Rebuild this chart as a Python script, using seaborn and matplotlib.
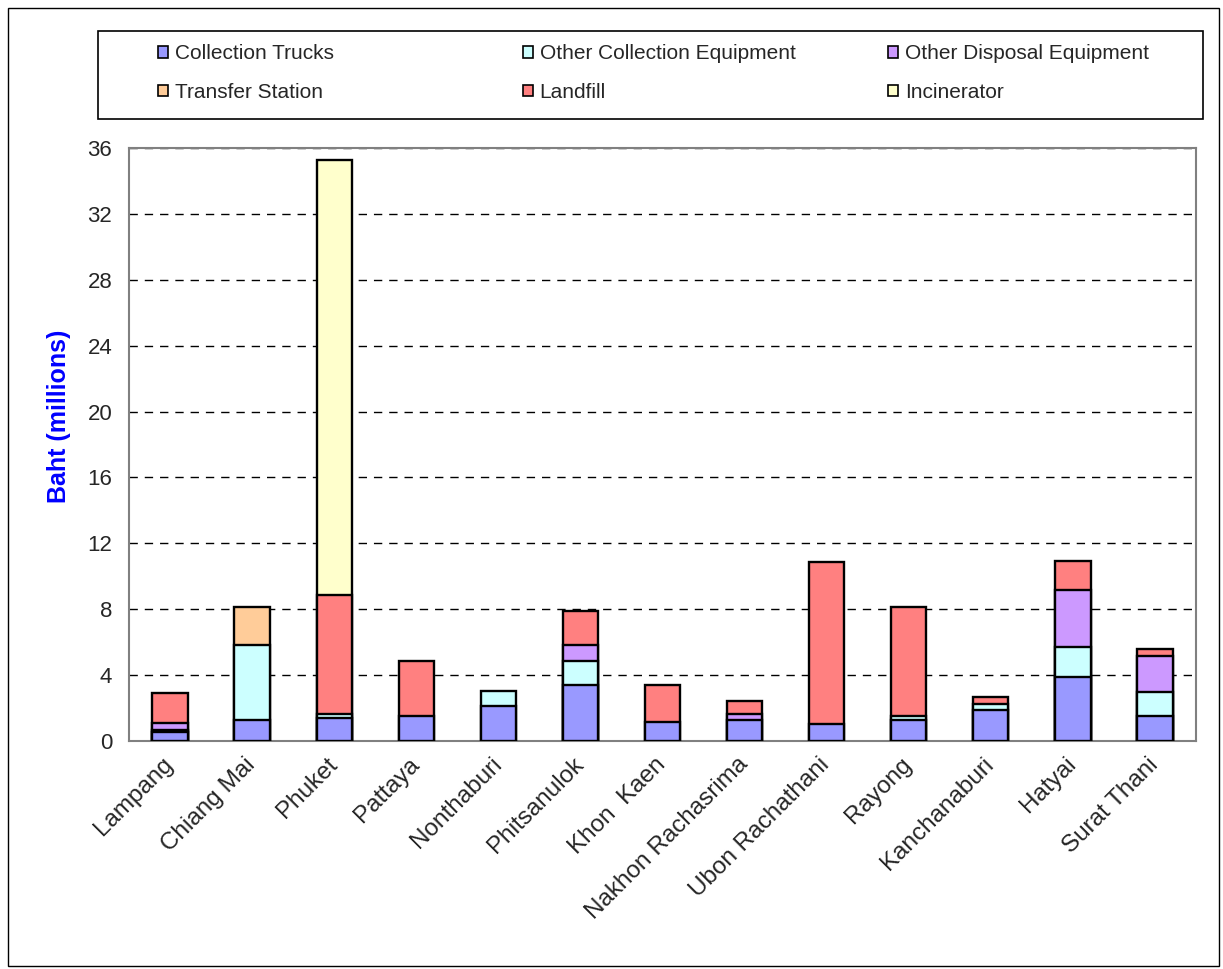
import numpy as np
import pandas as pd
import matplotlib
matplotlib.use("Agg")
import matplotlib.pyplot as plt
from matplotlib.patches import Patch, Rectangle
from matplotlib.transforms import ScaledTranslation
import seaborn as sns

cities = ["Lampang", "Chiang Mai", "Phuket", "Pattaya", "Nonthaburi", "Phitsanulok",
          "Khon  Kaen", "Nakhon Rachasrima", "Ubon Rachathani", "Rayong",
          "Kanchanaburi", "Hatyai", "Surat Thani"]

collection_trucks = [0.55, 1.28, 1.40, 1.54, 2.10, 3.37, 1.18, 1.30, 1.05, 1.28, 1.90, 3.87, 1.54]
other_collection = [0.10, 4.52, 0.25, 0.00, 0.92, 1.48, 0.00, 0.00, 0.00, 0.25, 0.35, 1.81, 1.46]
other_disposal = [0.45, 0.00, 0.00, 0.00, 0.00, 0.95, 0.00, 0.36, 0.00, 0.00, 0.00, 3.51, 2.15]
transfer_station = [0.00, 2.31, 0.00, 0.00, 0.00, 0.00, 0.00, 0.00, 0.00, 0.00, 0.00, 0.00, 0.00]
landfill = [1.80, 0.00, 7.20, 3.33, 0.00, 2.09, 2.21, 0.75, 9.80, 6.58, 0.40, 1.71, 0.43]
incinerator = [0.00, 0.00, 26.45, 0.00, 0.00, 0.00, 0.00, 0.00, 0.00, 0.00, 0.00, 0.00, 0.00]

series_names = ["Collection Trucks", "Other Collection Equipment", "Other Disposal Equipment",
                "Transfer Station", "Landfill", "Incinerator"]
series_values = [collection_trucks, other_collection, other_disposal,
                 transfer_station, landfill, incinerator]
series_colors = ["#9999FF", "#CCFFFF", "#CC99FF", "#FFCC99", "#FF8080", "#FFFFCC"]

y_ticks = [0, 4, 8, 12, 16, 20, 24, 28, 32, 36]

sns.set_style("white")
plt.rcParams["font.family"] = ["Liberation Sans", "DejaVu Sans"]

W, H = 1223, 969
fig = plt.figure(figsize=(W / 100, H / 100), dpi=100)
ax = fig.add_axes([129 / W, 1 - 741 / H, (1196 - 129) / W, (741 - 148) / H])

# stacked bars: draw cumulative totals from the top layer down
vals = np.array(series_values)
cum = np.cumsum(vals, axis=0)
for k in range(len(series_names) - 1, -1, -1):
    heights = np.where(vals[k] > 0, cum[k], np.nan)
    df = pd.DataFrame({"city": cities, "top": heights})
    sns.barplot(data=df, x="city", y="top", order=cities, color=series_colors[k],
                saturation=1, edgecolor="black", linewidth=1.7, width=0.43,
                errorbar=None, ax=ax, zorder=3)

ax.set_ylim(0, 36)
ax.set_xlim(-0.5, len(cities) - 0.5)
ax.set_yticks(y_ticks)
ax.set_yticklabels([str(t) for t in y_ticks], fontsize=16)
ax.tick_params(axis="y", direction="out", length=7, width=1, color="#808080", pad=5)

# tick marks between categories, labels at category centers
ax.set_xticks(np.arange(-0.5, len(cities), 1))
ax.set_xticklabels([])
ax.tick_params(axis="x", which="major", direction="out", length=7, width=1, color="#808080")
ax.set_xticks(np.arange(len(cities)), minor=True)
ax.set_xticklabels(cities, minor=True, rotation=45, ha="right", rotation_mode="anchor",
                   fontsize=17.5)
ax.tick_params(axis="x", which="minor", length=0, pad=9)
shift = ScaledTranslation(-8 / 100, 0, fig.dpi_scale_trans)
for lbl in ax.get_xticklabels(minor=True):
    lbl.set_transform(lbl.get_transform() + shift)

ax.set_xlabel("")
ax.set_ylabel("Baht (millions)", fontsize=18, fontweight="bold", color="#0000FF")
ax.yaxis.set_label_coords(-0.054, 0.548)

ax.yaxis.grid(True, linestyle=(0, (6, 5)), color="black", linewidth=1)
ax.set_axisbelow(True)
for side in ["left", "bottom", "top", "right"]:
    ax.spines[side].set_color("#808080")
    ax.spines[side].set_linewidth(1.5)
    ax.spines[side].set_visible(True)

# legend box with three columns of entries
fig.patches.append(Rectangle((98 / W, 1 - 119 / H), (1203 - 98) / W, (119 - 31) / H,
                             transform=fig.transFigure, fill=False, edgecolor="black",
                             linewidth=1.2))
handles = [Patch(facecolor=c, edgecolor="black", linewidth=1.2) for c in series_colors]
col_x = [158, 523, 888]
for i, x0 in enumerate(col_x):
    idx = [i, i + 3]
    fig.legend([handles[j] for j in idx], [series_names[j] for j in idx],
               loc="center left", bbox_to_anchor=(x0 / W, 1 - 73 / H),
               frameon=False, fontsize=15, handlelength=0.5, handleheight=0.5,
               handletextpad=0.3, labelspacing=0.95, borderpad=0, borderaxespad=0)

# outer chart border
fig.patches.append(Rectangle((8 / W, 1 - 966 / H), (1219 - 8) / W, (966 - 8) / H,
                             transform=fig.transFigure, fill=False, edgecolor="black",
                             linewidth=1))

fig.savefig("out.png", dpi=100, facecolor="white")
